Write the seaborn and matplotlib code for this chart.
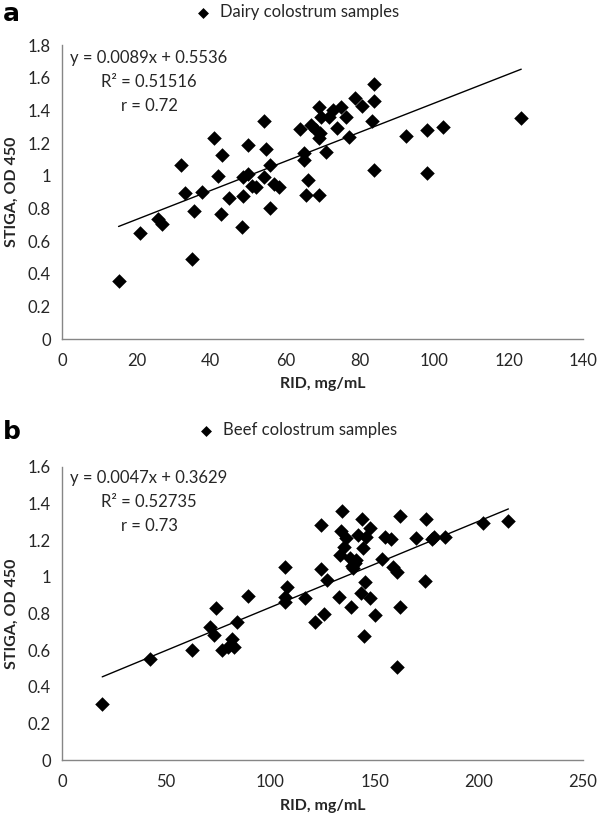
import numpy as np
import pandas as pd
import matplotlib
matplotlib.use("Agg")
import matplotlib.pyplot as plt
import seaborn as sns

# dairy colostrum samples (panel a)
dairy_rid = [15.2, 21.0, 25.9, 26.8, 34.9, 31.9, 33.0, 35.5, 37.7, 40.9,
             42.9, 42.0, 42.6, 44.8, 48.5, 48.7, 48.7, 50.0, 50.1, 51.0,
             52.1, 54.4, 55.9, 54.3, 54.8, 55.9, 57.0, 58.4, 64.0, 65.1,
             64.9, 66.0, 65.5, 69.1, 66.8, 69.0, 69.6, 68.3, 69.3, 69.1,
             70.9, 72.7, 71.8, 73.8, 75.0, 76.2, 77.0, 78.8, 80.6, 83.9,
             83.9, 83.4, 83.9, 92.5, 98.1, 98.1, 102.3, 123.4]
dairy_od = [0.357, 0.649, 0.735, 0.704, 0.49, 1.063, 0.896, 0.786, 0.902, 1.229,
            1.127, 0.998, 0.767, 0.865, 0.688, 0.878, 0.994, 1.188, 1.008, 0.937,
            0.929, 1.337, 1.065, 0.992, 1.161, 0.8, 0.949, 0.933, 1.284, 1.14,
            1.098, 0.973, 0.879, 0.882, 1.31, 1.422, 1.361, 1.28, 1.26, 1.23,
            1.147, 1.402, 1.361, 1.29, 1.418, 1.357, 1.235, 1.473, 1.427, 1.559,
            1.457, 1.337, 1.035, 1.243, 1.28, 1.018, 1.296, 1.355]

# beef colostrum samples (panel b)
beef_rid = [19.3, 42.0, 62.5, 70.8, 72.7, 73.7, 76.9, 79.6, 81.7, 82.3,
            83.9, 89.2, 106.9, 108.0, 106.9, 107.2, 116.6, 121.2, 125.5, 124.5,
            124.5, 127.2, 132.8, 134.4, 133.2, 134.0, 136.4, 135.1, 138.8, 138.0,
            139.6, 140.5, 141.2, 139.0, 142.0, 144.0, 144.4, 145.9, 147.9, 145.2,
            143.6, 147.9, 150.0, 144.7, 153.6, 155.2, 157.9, 158.8, 160.7, 162.3,
            160.7, 162.3, 170.0, 174.7, 174.0, 177.6, 178.7, 183.9, 201.9, 214.2]
beef_od = [0.305, 0.549, 0.6, 0.727, 0.682, 0.827, 0.6, 0.618, 0.658, 0.618,
           0.755, 0.895, 1.051, 0.945, 0.864, 0.89, 0.884, 0.755, 0.796, 1.04,
           1.282, 0.982, 0.891, 1.36, 1.118, 1.249, 1.209, 1.164, 0.836, 1.1,
           1.045, 1.073, 1.09, 1.06, 1.227, 1.313, 1.155, 1.218, 1.264, 0.969,
           0.909, 0.882, 0.791, 0.676, 1.095, 1.215, 1.204, 1.055, 1.027, 0.836,
           0.509, 1.333, 1.209, 1.313, 0.978, 1.204, 1.218, 1.215, 1.291, 1.305]

# trendline coefficients as printed on the chart
slopes = [0.0089, 0.0047]
intercepts = [0.5536, 0.3629]
equations = ["y = 0.0089x + 0.5536\nR² = 0.51516\nr = 0.72",
             "y = 0.0047x + 0.3629\nR² = 0.52735\nr = 0.73"]
series_names = ["Dairy colostrum samples", "Beef colostrum samples"]
panel_letters = ["a", "b"]
x_ticks = [np.arange(0, 141, 20), np.arange(0, 251, 50)]
y_ticks = [np.arange(0, 1.81, 0.2), np.arange(0, 1.61, 0.2)]

sns.set_theme(style="white")
plt.rcParams["font.family"] = ["Lato", "DejaVu Sans"]

W, H = 597, 821
fig = plt.figure(figsize=(W / 100, H / 100), dpi=100)

grey = "#868686"
txt = "#262626"

# axes boxes in pixels: left, top, right, bottom
boxes = [(62, 45, 583, 339), (62, 466.7, 583, 760)]
letter_y = [21, 439]
legend_y = [12, 430]
text_y = [50, 470]
xlabel_y = [384, 806]

datasets = [(dairy_rid, dairy_od), (beef_rid, beef_od)]

for i in range(2):
    l, t, r, b = boxes[i]
    ax = fig.add_axes([l / W, 1 - b / H, (r - l) / W, (b - t) / H])
    df = pd.DataFrame({"RID": datasets[i][0], "OD": datasets[i][1]})
    sns.scatterplot(data=df, x="RID", y="OD", marker="D", s=55, color="black",
                    edgecolor="black", linewidth=0, ax=ax, label=series_names[i],
                    zorder=3)
    xs = np.array([df["RID"].min(), df["RID"].max()])
    line = pd.DataFrame({"RID": xs, "OD": slopes[i] * xs + intercepts[i]})
    sns.lineplot(data=line, x="RID", y="OD", color="black", linewidth=1.0,
                 ax=ax, legend=False, zorder=2)

    ax.set_xlim(x_ticks[i][0], x_ticks[i][-1])
    ax.set_ylim(y_ticks[i][0], y_ticks[i][-1])
    ax.set_xticks(x_ticks[i])
    ax.set_yticks(y_ticks[i])
    ax.set_yticklabels([f"{v:g}" for v in np.round(y_ticks[i], 1)])
    ax.set_xticklabels([f"{v:g}" for v in x_ticks[i]])
    for s in ["top", "right"]:
        ax.spines[s].set_visible(False)
    for s in ["left", "bottom"]:
        ax.spines[s].set_color(grey)
        ax.spines[s].set_linewidth(1.0)
    ax.tick_params(axis="both", direction="out", length=4, width=1.0,
                   color=grey, labelsize=12, labelcolor=txt, pad=4)
    ax.tick_params(axis="x", pad=6)
    ax.set_xlabel("")
    ax.set_ylabel("")
    ax.grid(False)

    leg = ax.legend(loc="center", bbox_to_anchor=(293 / W, 1 - legend_y[i] / H),
                    bbox_transform=fig.transFigure, frameon=False, fontsize=12,
                    handletextpad=0.0, markerscale=0.75, borderpad=0)
    for tx in leg.get_texts():
        tx.set_color(txt)

    fig.text(149 / W, 1 - text_y[i] / H, equations[i], ha="center", va="top",
             multialignment="center", fontsize=12, color=txt, linespacing=1.6,
             transform=fig.transFigure)
    fig.text(3 / W, 1 - letter_y[i] / H, panel_letters[i], fontsize=18,
             fontweight="bold", ha="left", va="baseline", color="black",
             family=["DejaVu Sans"])
    fig.text((l + r) / 2 / W, 1 - xlabel_y[i] / H, "RID, mg/mL", fontsize=11.5,
             fontweight="bold", ha="center", va="center", color=txt)
    fig.text(12 / W, 1 - (t + b) / 2 / H, "STIGA, OD 450", fontsize=11.5,
             fontweight="bold", ha="center", va="center", rotation=90, color=txt)

fig.savefig("out.png", dpi=100, facecolor="white")
